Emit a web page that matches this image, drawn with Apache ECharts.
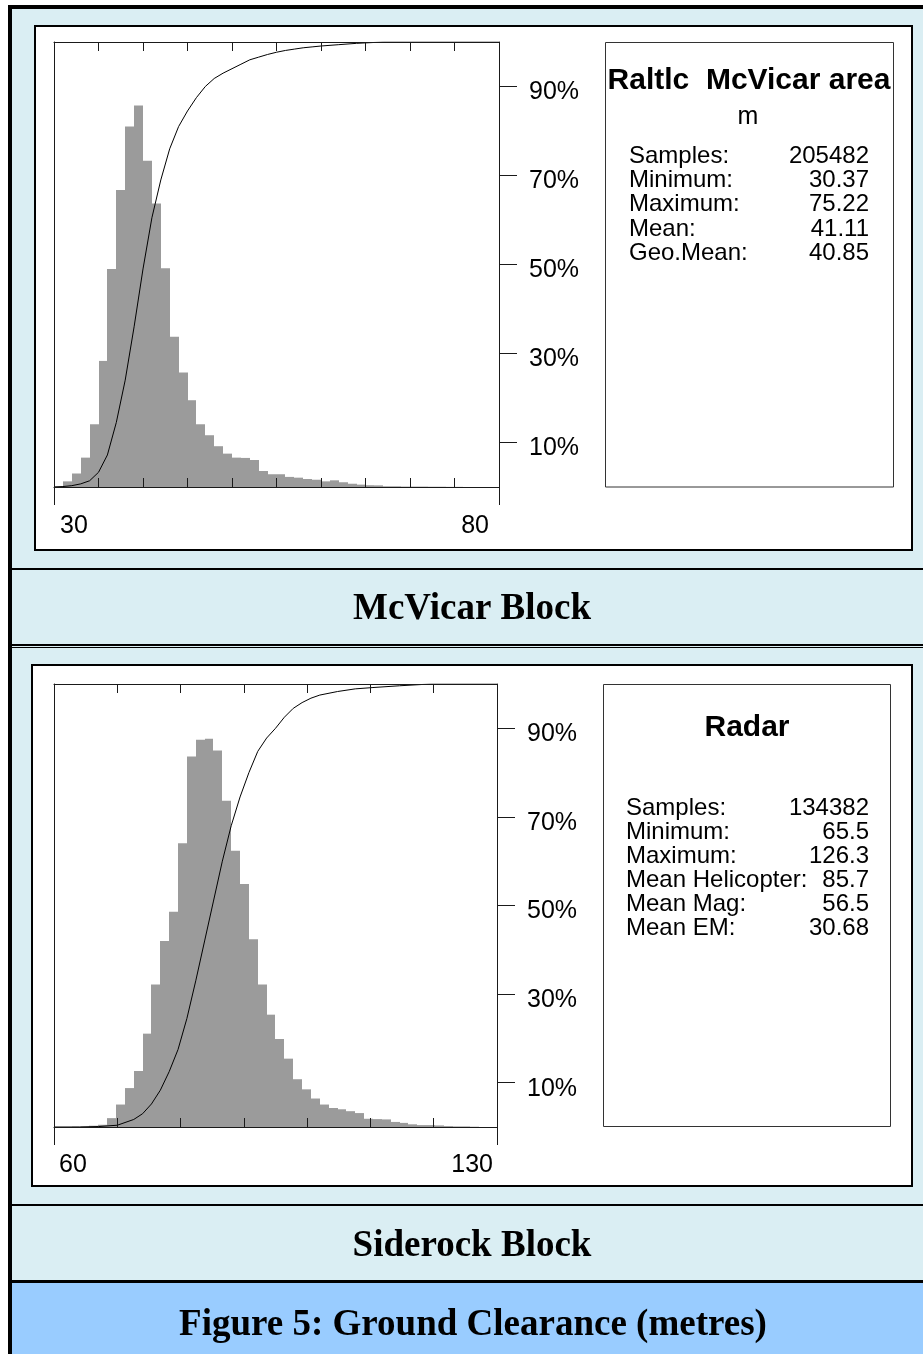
<!DOCTYPE html>
<html>
<head>
<meta charset="utf-8">
<title>Figure 5: Ground Clearance (metres)</title>
<script src="https://cdn.jsdelivr.net/npm/echarts@6/dist/echarts.min.js"></script>
<style>
  html, body { margin: 0; padding: 0; background: #ffffff; }
  #chart { width: 923px; height: 1354px; }
</style>
</head>
<body>
<div id="chart"></div>
<script>
// ---- McVicar Block: radar altimeter clearance, 1 m bins from 30 m ----
const mcvBinStart = 30;
const mcvBinWidth = 1;
const mcvCounts = [50, 380, 910, 1980, 4230, 8500, 14700, 20030, 24300, 25720,
                   21990, 19120, 14740, 10130, 7720, 5850, 4230, 3490, 2750, 2250,
                   1980, 1960, 1820, 1080, 860, 860, 680, 630, 540, 490,
                   380, 450, 320, 220, 160, 120, 110, 50, 50, 30,
                   30, 30, 20, 20, 10, 10, 0, 0, 0, 0];
// cumulative percentage curve [clearance m, %]
const mcvCumulative = [[30, 0], [31, 0.1], [32, 0.3], [33, 0.7], [34, 1.4], [35, 3.3],
                       [36, 7.2], [37, 14.5], [38, 24], [39, 36], [40, 49], [41, 60.5],
                       [42, 69], [43, 76], [44, 81], [45, 84.5], [46, 87.5], [47, 90],
                       [48, 91.8], [49, 93], [50, 94], [51, 95], [52, 96], [53, 96.6],
                       [54, 97.2], [55, 97.7], [56, 98.1], [57, 98.4], [58, 98.7], [59, 98.9],
                       [60, 99.1], [62, 99.4], [64, 99.7], [67, 100], [80, 100]];
const mcvRange = [30, 80];
const mcvTickStep = 5;
const mcvCountMax = 30000;
const mcvTitle = 'Raltlc  McVicar area';
const mcvUnit = 'm';
const mcvStatLabels = ['Samples:', 'Minimum:', 'Maximum:', 'Mean:', 'Geo.Mean:'];
const mcvStatValues = ['205482', '30.37', '75.22', '41.11', '40.85'];

// ---- Siderock Block: radar clearance, 1.4 m bins from 60 m ----
const sidBinStart = 60;
const sidBinWidth = 1.4;
const sidCounts = [0, 0, 10, 20, 40, 70, 280, 710, 1230, 1770,
                   2950, 4500, 5880, 6800, 8970, 11710, 12240, 12270, 11900, 10310,
                   8730, 7680, 5930, 4500, 3550, 2780, 2160, 1510, 1190, 900,
                   710, 600, 560, 500, 440, 260, 250, 240, 160, 130,
                   85, 60, 60, 50, 30, 20, 20, 10, 0, 0];
const sidCumulative = [[60, 0], [64, 0], [67, 0.1], [70, 0.4], [72.6, 1.7], [74, 3],
                       [75.4, 5.2], [76.8, 8.3], [78.2, 12.5], [79.6, 17.5], [81, 24.5],
                       [82.4, 33], [83.8, 42], [85.2, 51], [86.6, 60], [88, 68],
                       [89.4, 74.5], [90.8, 80], [92.2, 84.8], [93.6, 87.8], [95, 90],
                       [96.4, 92.5], [97.8, 94.5], [99.2, 95.8], [100.6, 96.8], [102, 97.5],
                       [104.8, 98.3], [107.6, 98.9], [110.4, 99.2], [114.6, 99.6],
                       [119.5, 100], [130, 100]];
const sidRange = [60, 130];
const sidTickStep = 10;
const sidCountMax = 14000;
const sidTitle = 'Radar';
const sidStatLabels = ['Samples:', 'Minimum:', 'Maximum:', 'Mean Helicopter:', 'Mean Mag:', 'Mean EM:'];
const sidStatValues = ['134382', '65.5', '126.3', '85.7', '56.5', '30.68'];

// shared percentage ticks on the cumulative axis
const pctTicks = [10, 30, 50, 70, 90];

const blockNames = ['McVicar Block', 'Siderock Block'];
const figureCaption = 'Figure 5: Ground Clearance (metres)';

// ---------------------------------------------------------------
const SANS = '"Liberation Sans", Arial, sans-serif';
const SERIF = '"Liberation Serif", "Times New Roman", serif';
const INK = '#1a1a1a';
const BAR = '#9b9b9b';
const PALE = '#DAEEF3';
const BAND = '#99CCFF';

function bins(start, width, counts) {
  return counts.map((c, i) => [start + i * width, start + (i + 1) * width, c]);
}

// one histogram bin, edges snapped to whole pixels so neighbours join cleanly
function renderBin(params, api) {
  const top = api.coord([api.value(0), api.value(2)]);
  const base = api.coord([api.value(1), 0]);
  const x0 = Math.round(top[0]);
  const x1 = Math.round(base[0]);
  return {
    type: 'rect',
    shape: { x: x0, y: top[1], width: x1 - x0, height: base[1] - top[1] },
    style: { fill: BAR }
  };
}

function frameX(gridIndex, range, step, position) {
  return {
    type: 'value', gridIndex, position, min: range[0], max: range[1], interval: step, z: 5,
    axisLine: { show: true, onZero: false, lineStyle: { color: INK, width: 1 } },
    axisTick: { show: true, inside: true, length: 9, lineStyle: { color: INK } },
    axisLabel: { show: false }, splitLine: { show: false }
  };
}

function endX(gridIndex, range, padding, margin) {
  return {
    type: 'value', gridIndex, position: 'bottom', min: range[0], max: range[1], z: 5,
    axisLine: { show: false },
    axisTick: { show: true, inside: false, length: 18, customValues: range, lineStyle: { color: INK } },
    axisLabel: {
      show: true, customValues: range, alignMinLabel: 'left', alignMaxLabel: 'right',
      padding, margin, fontSize: 25, fontFamily: SANS, color: '#000'
    },
    splitLine: { show: false }
  };
}

function countY(gridIndex, max) {
  return {
    type: 'value', gridIndex, position: 'left', min: 0, max, z: 5,
    axisLine: { show: true, onZero: false, lineStyle: { color: INK, width: 1 } },
    axisTick: { show: false }, axisLabel: { show: false }, splitLine: { show: false }
  };
}

function pctY(gridIndex) {
  return {
    type: 'value', gridIndex, position: 'right', min: 0, max: 100, z: 5,
    axisLine: { show: true, onZero: false, lineStyle: { color: INK, width: 1 } },
    axisTick: { show: true, inside: false, length: 18, customValues: pctTicks, lineStyle: { color: INK } },
    axisLabel: {
      show: true, customValues: pctTicks, formatter: '{value}%', margin: 30,
      verticalAlign: 'top', lineHeight: 12,
      fontSize: 25, fontFamily: SANS, color: '#000'
    },
    splitLine: { show: false }
  };
}

function txt(x, y, text, font, align, z) {
  return {
    type: 'text', x, y, z: z || 50, silent: true,
    style: { text, font, fill: '#000', align, textAlign: align, verticalAlign: 'middle', textVerticalAlign: 'middle' }
  };
}
function block(x, y, w, h, fill, z) {
  return { type: 'rect', z: z || -5, silent: true, shape: { x, y, width: w, height: h }, style: { fill } };
}
function frame(x, y, w, h, fill, stroke, lw, z) {
  return { type: 'rect', z: z || -4, silent: true, shape: { x, y, width: w, height: h },
           style: { fill, stroke, lineWidth: lw } };
}

function statTexts(labels, values, xl, xr, y0, step, size) {
  const out = [];
  labels.forEach((l, i) => {
    out.push(txt(xl, y0 + i * step, l, size + 'px ' + SANS, 'left'));
    out.push(txt(xr, y0 + i * step, values[i], size + 'px ' + SANS, 'right'));
  });
  return out;
}

const graphics = [
  // page background and outer frame
  block(12, 9, 911, 1274, PALE, -10),
  block(12, 1283, 911, 71, BAND, -10),
  block(8, 5, 4, 1349, '#000', -3),
  block(8, 5, 915, 4, '#000', -3),
  // row separators
  block(12, 568, 911, 2, '#000', -3),
  block(12, 644, 911, 2, '#000', -3),
  block(12, 647, 911, 1, '#000', -3),
  block(12, 1204, 911, 2, '#000', -3),
  block(12, 1280, 911, 3, '#000', -3),
  // white chart panels
  frame(35, 26, 877, 524, '#ffffff', '#000', 2),
  frame(32, 665, 880, 521, '#ffffff', '#000', 2),
  // statistics boxes
  frame(605.5, 42.5, 288, 444.5, 'none', '#333', 1, -2),
  frame(603.5, 684.5, 287, 442, 'none', '#333', 1, -2),
  // statistics text
  txt(749, 81, mcvTitle, 'bold 30px ' + SANS, 'center'),
  txt(748, 117, mcvUnit, '25px ' + SANS, 'center'),
  ...statTexts(mcvStatLabels, mcvStatValues, 629, 869, 156, 24.35, 24),
  txt(747, 728, sidTitle, 'bold 30px ' + SANS, 'center'),
  ...statTexts(sidStatLabels, sidStatValues, 626, 869, 808, 24, 24),
  // block captions
  txt(472, 609, blockNames[0], 'bold 37px ' + SERIF, 'center'),
  txt(472, 1246, blockNames[1], 'bold 37px ' + SERIF, 'center'),
  txt(473, 1325, figureCaption, 'bold 37px ' + SERIF, 'center')
];

const chart = echarts.init(document.getElementById('chart'), null, { renderer: 'canvas', width: 923, height: 1354 });

chart.setOption({
  animation: false,
  backgroundColor: '#ffffff',
  grid: [
    { left: 54, top: 42, width: 445, height: 445, containLabel: false },
    { left: 54, top: 684, width: 443, height: 443, containLabel: false }
  ],
  xAxis: [
    frameX(0, mcvRange, mcvTickStep, 'bottom'),
    endX(0, mcvRange, [0, 10, 0, 6], 27),
    frameX(0, mcvRange, mcvTickStep, 'top'),
    frameX(1, sidRange, sidTickStep, 'bottom'),
    endX(1, sidRange, [0, 4, 0, 5], 26),
    frameX(1, sidRange, sidTickStep, 'top')
  ],
  yAxis: [
    countY(0, mcvCountMax),
    pctY(0),
    countY(1, sidCountMax),
    pctY(1)
  ],
  series: [
    {
      type: 'custom', name: 'McVicar frequency', xAxisIndex: 0, yAxisIndex: 0,
      renderItem: renderBin, encode: { x: [0, 1], y: 2 },
      data: bins(mcvBinStart, mcvBinWidth, mcvCounts), z: 2
    },
    {
      type: 'line', name: 'McVicar cumulative', xAxisIndex: 0, yAxisIndex: 1,
      data: mcvCumulative, showSymbol: false, smooth: false,
      lineStyle: { color: '#000', width: 1 }, z: 3
    },
    {
      type: 'custom', name: 'Siderock frequency', xAxisIndex: 3, yAxisIndex: 2,
      renderItem: renderBin, encode: { x: [0, 1], y: 2 },
      data: bins(sidBinStart, sidBinWidth, sidCounts), z: 2
    },
    {
      type: 'line', name: 'Siderock cumulative', xAxisIndex: 3, yAxisIndex: 3,
      data: sidCumulative, showSymbol: false, smooth: false,
      lineStyle: { color: '#000', width: 1 }, z: 3
    }
  ],
  graphic: { elements: graphics }
});
</script>
</body>
</html>
